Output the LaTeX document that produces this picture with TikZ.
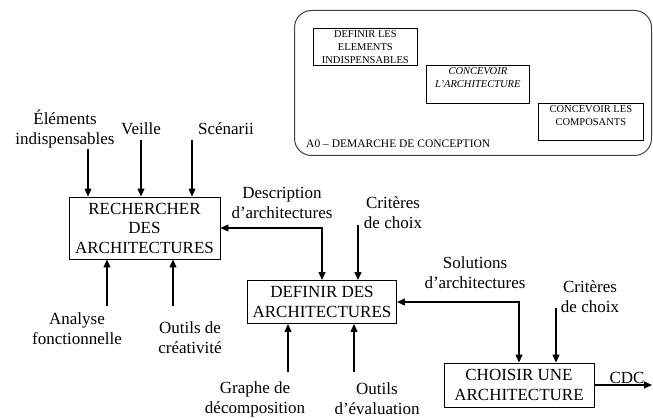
\documentclass[tikz,border=0pt]{standalone}
\usepackage{fontspec}
\setmainfont{Liberation Serif}
\usetikzlibrary{arrows.meta,calc}
\tikzset{
  arr/.style={-{Triangle[length=8pt,width=7pt]}, line width=1.2pt},
  darr/.style={{Triangle[length=8pt,width=7pt]}-{Triangle[length=8pt,width=7pt]}, line width=1.2pt},
  bigbox/.style={draw, line width=0.9pt, inner sep=0pt, align=center, font=\fontsize{17}{19.5}\selectfont},
  lbl/.style={inner sep=0pt, align=center, font=\fontsize{17}{20}\selectfont},
  smallbox/.style={draw, line width=0.7pt, inner sep=0pt, anchor=north west},
  smalltxt/.style={inner sep=0pt, align=center, font=\fontsize{10.5}{12.8}\selectfont},
}
\begin{document}
\begin{tikzpicture}[x=1pt,y=-1pt]
\useasboundingbox (0,0) rectangle (653,419);
% A0 frame
\node[draw, line width=1pt, draw=black!75, rounded corners=17pt, minimum width=357pt, minimum height=145pt, inner sep=0pt, anchor=north west] (frame) at (294,10) {};
\node[smallbox, minimum width=104pt, minimum height=37pt] (d1) at (313,28) {};
\node[smalltxt, below=2.5pt] (t1) at (d1.north) {DEFINIR LES\\ELEMENTS\\INDISPENSABLES};
\node[smallbox, minimum width=103pt, minimum height=38pt] (d2) at (426,65) {};
\node[smalltxt, below=2.5pt, font=\fontsize{10.5}{12.8}\selectfont\itshape] (t2) at (d2.north) {CONCEVOIR\\L'ARCHITECTURE};
\node[smallbox, minimum width=105pt, minimum height=37pt] (d3) at (538,103) {};
\node[smalltxt, below=2.5pt] (t3) at (d3.north) {CONCEVOIR LES\\COMPOSANTS};
\node[inner sep=0pt, anchor=west, font=\fontsize{11.5}{13}\selectfont] (a0) at (306,144) {A0 -- DEMARCHE DE CONCEPTION};

% main boxes
\node[bigbox, minimum width=151pt, minimum height=62pt] (rech) at (144.5,228) {RECHERCHER\\DES\\ARCHITECTURES};
\node[bigbox, minimum width=149pt, minimum height=43pt] (def) at (322,302) {DEFINIR DES\\ARCHITECTURES};
\node[bigbox, minimum width=150pt, minimum height=44pt] (cho) at (519,385) {CHOISIR UNE\\ARCHITECTURE};

% labels
\node[lbl] (l1) at (65,129) {Éléments\\indispensables};
\node[lbl] (l2) at (141,129) {Veille};
\node[lbl] (l3) at (226,129) {Scénarii};
\node[lbl] (l4) at (77,329) {Analyse\\fonctionnelle};
\node[lbl] (l5) at (190,338) {Outils de\\créativité};
\node[lbl] (l6) at (282,203) {Description\\d'architectures};
\node[lbl] (l7) at (393,213) {Critères\\de choix};
\node[lbl] (l8) at (255,399) {Graphe de\\décomposition};
\node[lbl] (l9) at (377,399) {Outils\\d'évaluation};
\node[lbl] (l10) at (475,273) {Solutions\\d'architectures};
\node[lbl] (l11) at (590,297) {Critères\\de choix};
\node[inner sep=0pt, anchor=base, font=\fontsize{17}{20}\selectfont] (l12) at (627,384) {CDC};

% free ends
\coordinate (s1) at (88,149);
\coordinate (s2) at (141,140);
\coordinate (s3) at (192,140);
\coordinate (s4) at (107,306);
\coordinate (s5) at (173,306);
\coordinate (s6) at (358,225);
\coordinate (s7) at (288,372);
\coordinate (s8) at (354,372);
\coordinate (s9) at (556,308);
\coordinate (s10) at (652,385);

\draw[arr] (s1) -- (s1 |- rech.north);
\draw[arr] (s2) -- (s2 |- rech.north);
\draw[arr] (s3) -- (s3 |- rech.north);
\draw[arr] (s4) -- (s4 |- rech.south);
\draw[arr] (s5) -- (s5 |- rech.south);
\draw[darr] (rech.east) -| (def.north);
\draw[arr] (s6) -- (s6 |- def.north);
\draw[arr] (s7) -- (s7 |- def.south);
\draw[arr] (s8) -- (s8 |- def.south);
\draw[darr] (def.east) -| (cho.north);
\draw[arr] (s9) -- (s9 |- cho.north);
\draw[arr] (cho.east) -- (s10);
\end{tikzpicture}
\end{document}
